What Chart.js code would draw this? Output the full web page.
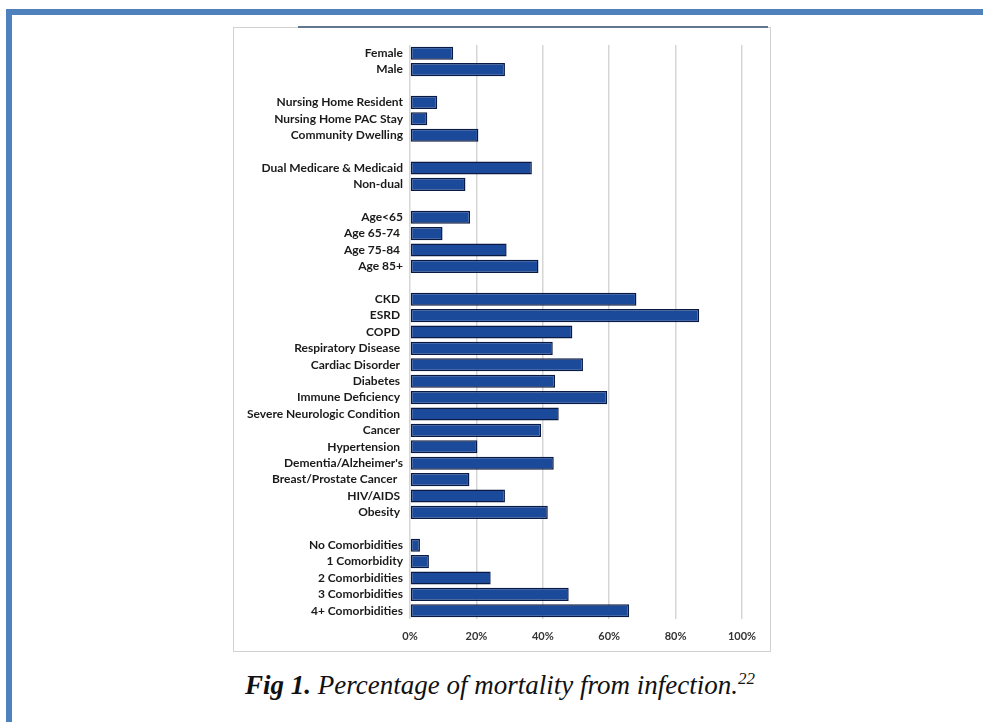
<!DOCTYPE html>
<html>
<head>
<meta charset="utf-8">
<script src="https://cdn.jsdelivr.net/npm/chart.js@4.4.1/dist/chart.umd.min.js"></script>
<style>
  html, body { margin: 0; padding: 0; background: #fff; }
  body { width: 983px; height: 722px; position: relative; overflow: hidden; }
  .frame-top { position: absolute; left: 6px; top: 9px; width: 977px; height: 6px; background: #4f81bd; }
  .frame-left { position: absolute; left: 6px; top: 9px; width: 6px; height: 713px; background: #4f81bd; }
  .panel { position: absolute; left: 233px; top: 27px; width: 536px; height: 623px; border: 1px solid #d2d2d2; background: #fff; }
  .panel-line { position: absolute; left: 298px; top: 26px; width: 470px; height: 2px; background: #62778f; }
  .chart-box { position: absolute; left: 234px; top: 28px; width: 536px; height: 622px; }
  .caption { position: absolute; left: 0; top: 669px; width: 1000px; text-align: center;
             font-family: 'Liberation Serif', 'Times New Roman', serif; font-style: italic; font-size: 27px; color: #111; }
  .caption sup { font-size: 17px; }
</style>
</head>
<body>
<div class="frame-top"></div>
<div class="frame-left"></div>
<div class="panel"></div>
<div class="panel-line"></div>
<div class="chart-box"><canvas id="mortalityChart"></canvas></div>
<div class="caption"><b>Fig 1.</b> Percentage of mortality from infection.<sup>22</sup></div>

<script>
// categories, with '' rows as spacers between groups
const categories = [
    'Female', 'Male', '',
    'Nursing Home Resident', 'Nursing Home PAC Stay', 'Community Dwelling', '',
    'Dual Medicare & Medicaid', 'Non-dual', '',
    'Age<65', 'Age 65-74 ', 'Age 75-84 ', 'Age 85+', '',
    'CKD ', 'ESRD ', 'COPD ', 'Respiratory Disease ', 'Cardiac Disorder ', 'Diabetes ',
    'Immune Deficiency ', 'Severe Neurologic Condition ', 'Cancer ', 'Hypertension ',
    "Dementia/Alzheimer's", 'Breast/Prostate Cancer  ', 'HIV/AIDS ', 'Obesity ', '',
    'No Comorbidities', '1 Comorbidity', '2 Comorbidities', '3 Comorbidities', '4+ Comorbidities'
];

// percent mortality
const mortality = [
    13.0, 28.6, null,
    8.2, 5.2, 20.6, null,
    36.7, 16.7, null,
    18.1, 9.8, 29.1, 38.7, null,
    68.2, 87.1, 48.9, 43.0, 52.1, 43.7,
    59.4, 44.8, 39.5, 20.3,
    43.3, 17.9, 28.6, 41.5, null,
    3.0, 5.7, 24.3, 47.8, 66.0
];

const xTicks = [0, 20, 40, 60, 80, 100];

const ctx = document.getElementById('mortalityChart').getContext('2d');

new Chart(ctx, {
    type: 'bar',
    data: {
        labels: categories,
        datasets: [{
            label: 'Mortality',
            data: mortality,
            backgroundColor: '#1b4a9a',
            borderColor: '#0b1a42',
            borderWidth: 1.5,
            borderSkipped: false,
            categoryPercentage: 1.0,
            barPercentage: 0.8
        }]
    },
    options: {
        indexAxis: 'y',
        responsive: true,
        maintainAspectRatio: false,
        animation: false,
        layout: {
            padding: { top: 17, right: 28, left: 0, bottom: 0 }
        },
        plugins: {
            legend: { display: false },
            tooltip: { enabled: false }
        },
        scales: {
            x: {
                min: 0,
                max: 100,
                afterBuildTicks: (scale) => {
                    scale.ticks = xTicks.map(v => ({ value: v }));
                },
                afterFit: (scale) => { scale.height = 31; },
                grid: {
                    color: '#d6d6d6',
                    lineWidth: 1.5,
                    drawTicks: false
                },
                border: { display: false },
                ticks: {
                    padding: 11,
                    color: '#333333',
                    font: { family: 'Lato', size: 11, weight: 'bold' },
                    callback: (v) => v + '%'
                }
            },
            y: {
                afterFit: (scale) => { scale.width = 176; },
                grid: { display: false, drawTicks: false },
                border: { display: false },
                ticks: {
                    autoSkip: false,
                    padding: 7,
                    color: '#1a1a1a',
                    font: { family: 'Lato', size: 12, weight: 'bold' }
                }
            }
        }
    }
});
</script>
</body>
</html>
